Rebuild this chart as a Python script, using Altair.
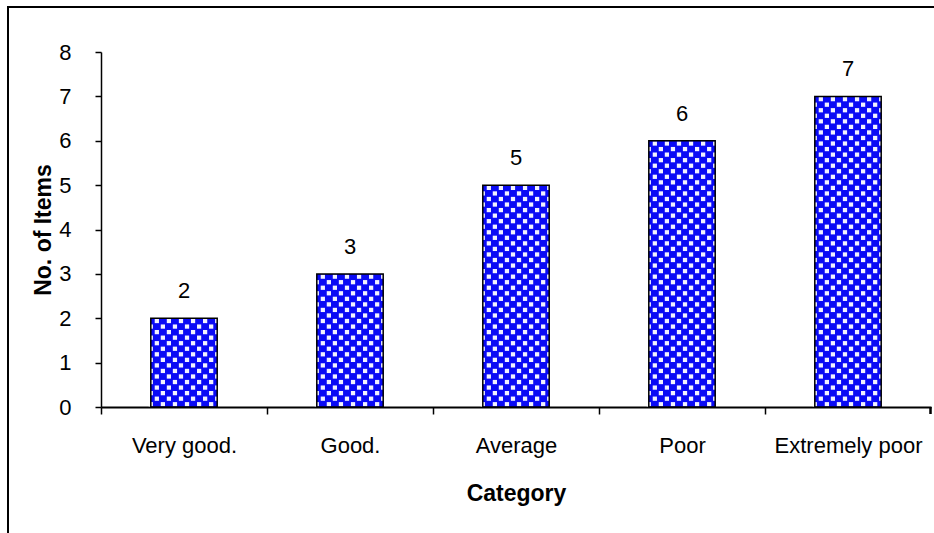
import altair as alt
import pandas as pd

categories = ["Very good.", "Good.", "Average", "Poor", "Extremely poor"]
counts = [2, 3, 5, 6, 7]

df = pd.DataFrame({"Category": categories, "Items": counts})

FONT = "Liberation Sans"
BLUE = "#0a0af5"

band = alt.Scale(domain=categories, paddingInner=0.6, paddingOuter=0.3)
y_scale = alt.Scale(domain=[0, 8], nice=False)

x_axis = alt.Axis(
    title="Category",
    labelAngle=0,
    labelFont=FONT,
    labelFontSize=22,
    labelColor="black",
    labelPadding=21,
    labelOffset=83,
    titleFont=FONT,
    titleFontSize=23,
    titleFontWeight="bold",
    titleColor="black",
    titlePadding=26,
    domainColor="black",
    domainWidth=2,
    tickColor="black",
    tickWidth=1.5,
    tickSize=7,
    tickOffset=-83,
    grid=False,
)

y_axis = alt.Axis(
    title="No. of Items",
    values=list(range(9)),
    labelFont=FONT,
    labelFontSize=22,
    labelColor="black",
    labelPadding=24,
    titleFont=FONT,
    titleFontSize=23,
    titleFontWeight="bold",
    titleColor="black",
    titlePadding=3,
    domainColor="black",
    domainWidth=1.5,
    tickColor="black",
    tickWidth=1.5,
    tickSize=6,
    grid=False,
)

base = alt.Chart(df)

bars = base.mark_bar(fill=BLUE).encode(
    x=alt.X("Category:N", sort=categories, scale=band, axis=x_axis),
    y=alt.Y("Items:Q", scale=y_scale, axis=y_axis),
)

labels = base.mark_text(
    font=FONT, fontSize=22, color="black", baseline="alphabetic", dy=-20
).encode(
    x=alt.X("Category:N", sort=categories, scale=band),
    y=alt.Y("Items:Q", scale=y_scale),
    text="Items:Q",
)

# outer frame and the closing tick at the right end of the category axis
frame_top = base.mark_rule(color="black", strokeWidth=2).encode(
    x=alt.value(-93), x2=alt.value(840), y=alt.value(-45)
)
frame_left = base.mark_rule(color="black", strokeWidth=2).encode(
    x=alt.value(-93), y=alt.value(-46), y2=alt.value(490)
)
end_tick = base.mark_rule(color="black", strokeWidth=1.5).encode(
    x=alt.value(829.5), y=alt.value(355), y2=alt.value(362)
)

# white checker texture inside each bar, on its own copy of the band scale
texture = (
    base.transform_calculate(row="sequence(0, datum.Items * 8)")
    .transform_flatten(["row"])
    .transform_calculate(col="sequence(0, 12)")
    .transform_flatten(["col"])
    .transform_filter("(datum.row + datum.col) % 2 == 0")
    .transform_calculate(ypos="(datum.row + 0.5) / 8")
    .mark_square(color="white", opacity=0.95, size=18)
    .encode(
        x=alt.X("Category:N", sort=categories, scale=band, axis=None),
        xOffset=alt.XOffset(
            "col:O",
            scale=alt.Scale(domain=list(range(12)), paddingInner=0, paddingOuter=0),
        ),
        y=alt.Y("ypos:Q", scale=y_scale, axis=y_axis),
    )
)

outline = base.mark_bar(fill="transparent", stroke="black", strokeWidth=1.5).encode(
    x=alt.X("Category:N", sort=categories, scale=band, axis=None),
    y=alt.Y("Items:Q", scale=y_scale, axis=y_axis),
)

main = alt.layer(bars, labels, frame_top, frame_left, end_tick)

chart = (
    alt.layer(main, texture, outline)
    .resolve_scale(x="independent", xOffset="independent")
    .resolve_axis(x="independent")
    .properties(
        width=830,
        height=355,
        padding={"left": 101, "top": 52, "right": 3, "bottom": 126},
        autosize=alt.AutoSizeParams(type="none"),
        background="white",
    )
    .configure_view(stroke=None)
)

chart.save("out.html", embed_options={"renderer": "svg", "actions": False})
